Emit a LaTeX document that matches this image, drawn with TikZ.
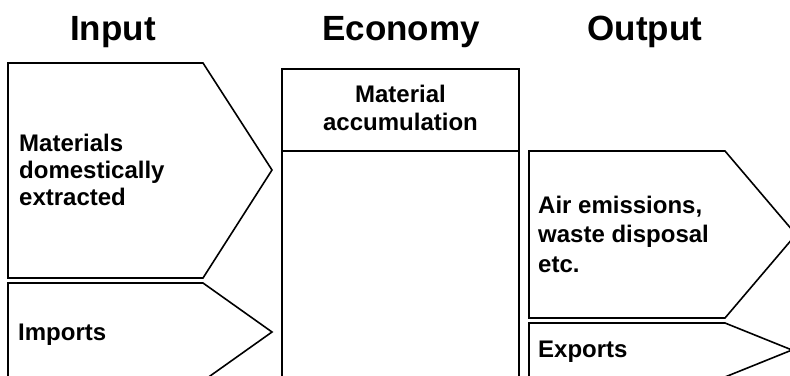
\documentclass[tikz,border=0pt]{standalone}
\usepackage{fontspec}
\setmainfont{Liberation Sans}

\begin{document}
\begin{tikzpicture}[x=1pt,y=1pt,yscale=-1,xscale=1,
  flowbox/.style={draw,line width=1.6pt,line join=miter},
  ecobox/.style={draw,line width=2.4pt},
  boxtext/.style={anchor=base west,inner sep=0pt,align=left,font=\fontsize{24}{27}\selectfont\bfseries},
  heading/.style={anchor=base,inner sep=0pt,font=\fontsize{35}{40}\selectfont\bfseries}]
\useasboundingbox (0,0) rectangle (790,375);
\clip (0,0) rectangle (790,375);

\draw[flowbox]   (8,63) -- (203,63) -- (272,170) -- (203,278) -- (8,278) -- cycle ;
\draw[flowbox]   (8,283) -- (203,283) -- (272,332) -- (203,381) -- (8,381) -- cycle ;

\draw[ecobox]    (282,69) rectangle (519,390) ;
\draw[flowbox]   (282,151) -- (519,151) ;

\draw[flowbox]   (529,151) -- (725,151) -- (796,234.5) -- (725,318) -- (529,318) -- cycle ;
\draw[flowbox]   (529,323) -- (725,323) -- (792,350) -- (725,377) -- (529,377) -- cycle ;


\node[heading] (input) at (113,40) {Input};
\node[heading] (economy) at (401,40) {Economy};
\node[heading] (output) at (645,40) {Output};

% base anchor sits on the last line
\node[boxtext] (extracted) at (19,205) {Materials\\domestically\\extracted};
\node[boxtext] (imports) at (18,340) {Imports};
\node[boxtext,anchor=base,align=center,font=\fontsize{24}{28}\selectfont\bfseries] (accum) at (400.5,130) {Material\\accumulation};
\node[boxtext,font=\fontsize{24}{29.5}\selectfont\bfseries] (emissions) at (538,272) {Air emissions,\\waste disposal\\etc.};
\node[boxtext] (exports) at (538,357) {Exports};
\end{tikzpicture}
\end{document}
